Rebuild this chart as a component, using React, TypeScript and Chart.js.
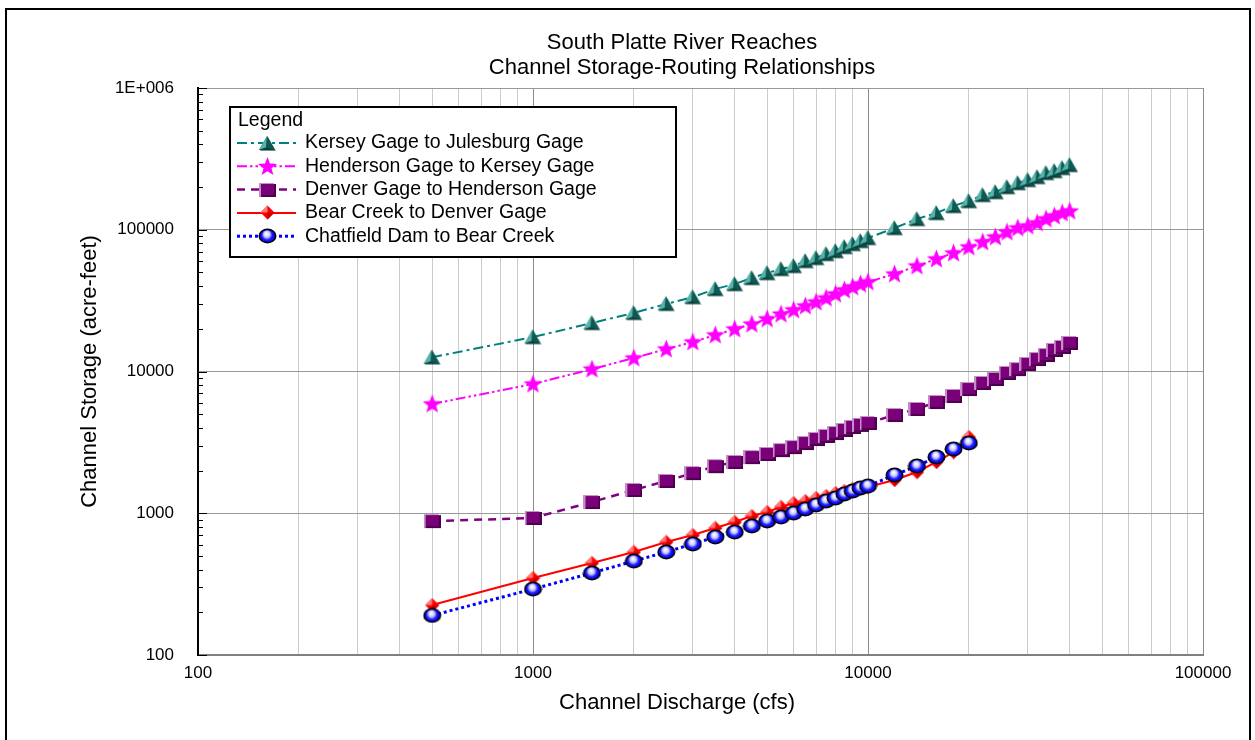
import React, { useEffect, useRef } from "react";
import { Chart, registerables } from "chart.js";

Chart.register(...registerables);

const FONT = '"Liberation Sans", Arial, Helvetica, sans-serif';

// ---------- text ----------
const titleLines = ["South Platte River Reaches", "Channel Storage-Routing Relationships"];
const xAxisTitle = "Channel Discharge (cfs)";
const yAxisTitle = "Channel Storage (acre-feet)";
const legendTitle = "Legend";
const seriesNames = [
  "Kersey Gage to Julesburg Gage",
  "Henderson Gage to Kersey Gage",
  "Denver Gage to Henderson Gage",
  "Bear Creek to Denver Gage",
  "Chatfield Dam to Bear Creek",
];

// ---------- data ----------
const dischargeLong = [
  500, 1000, 1500, 2000, 2500, 3000, 3500, 4000, 4500, 5000,
  5500, 6000, 6500, 7000, 7500, 8000, 8500, 9000, 9500, 10000,
  12000, 14000, 16000, 18000, 20000, 22000, 24000, 26000, 28000, 30000,
  32000, 34000, 36000, 38000, 40000,
];
const dischargeShort = [
  500, 1000, 1500, 2000, 2500, 3000, 3500, 4000, 4500, 5000,
  5500, 6000, 6500, 7000, 7500, 8000, 8500, 9000, 9500, 10000,
  12000, 14000, 16000, 18000, 20000,
];
const kerseyStorage = [
  12600, 17500, 22000, 25900, 30000, 33500, 38200, 41400, 45700, 49500,
  52900, 55500, 60200, 63200, 67500, 70800, 75600, 79400, 83300, 87500,
  102900, 119100, 131300, 147100, 159500, 175900, 184600, 200200, 213700, 224400,
  235600, 251500, 259800, 272700, 286300,
];
const hendersonStorage = [
  5900, 8160, 10400, 12450, 14400, 16150, 18100, 19950, 21600, 23500,
  25400, 27200, 29000, 30900, 33000, 35200, 37600, 39500, 41400, 42800,
  48700, 55500, 62200, 68500, 75600, 82000, 88900, 96400, 102900, 106300,
  111600, 119100, 125000, 131300, 135600,
];
const denverStorage = [
  880, 926, 1200, 1460, 1690, 1920, 2150, 2300, 2490, 2620,
  2790, 2930, 3130, 3340, 3510, 3680, 3870, 4060, 4200, 4330,
  4930, 5440, 6090, 6720, 7520, 8300, 8860, 9760, 10400, 11300,
  12250, 13070, 14180, 14890, 15890,
];
const bearStorage = [
  225, 349, 446, 533, 627, 702, 787, 868, 956, 1020,
  1107, 1181, 1220, 1281, 1323, 1389, 1435, 1483, 1507, 1531,
  1717, 1954, 2300, 2700, 3450,
];
const chatfieldStorage = [
  190, 292, 379, 460, 533, 607, 680, 737, 813, 882,
  941, 1004, 1072, 1144, 1220, 1281, 1367, 1435, 1507, 1556,
  1862, 2155, 2494, 2839, 3131,
];

// ---------- axis ticks ----------
const xDecades = [100, 1000, 10000, 100000];
const yDecades = [100, 1000, 10000, 100000, 1000000];
const yTickLabels = ["100", "1000", "10000", "100000", "1E+006"];
const minorMultipliers = [1, 2, 3, 4, 5, 6, 7, 8, 9];

// ---------- marker images ----------
function mk(w: number, h: number, draw: (g: CanvasRenderingContext2D) => void) {
  const c = document.createElement("canvas");
  c.width = w;
  c.height = h;
  const g = c.getContext("2d")!;
  draw(g);
  return c;
}

function triangleMarker() {
  return mk(19, 17, (g) => {
    g.fillStyle = "rgba(0,60,55,0.55)";
    g.beginPath(); g.moveTo(10, 2); g.lineTo(18, 16); g.lineTo(2, 16); g.closePath(); g.fill();
    g.fillStyle = "#1a7069";
    g.beginPath(); g.moveTo(9, 1); g.lineTo(17, 15); g.lineTo(1, 15); g.closePath(); g.fill();
    g.fillStyle = "#55b3aa";
    g.beginPath(); g.moveTo(9, 1); g.lineTo(1, 15); g.lineTo(8, 12.5); g.closePath(); g.fill();
    g.fillStyle = "#0f5952";
    g.beginPath(); g.moveTo(9, 1); g.lineTo(8, 12.5); g.lineTo(17, 15); g.closePath(); g.fill();
    g.fillStyle = "#0b3f3a";
    g.beginPath(); g.moveTo(1, 15); g.lineTo(8, 12.5); g.lineTo(17, 15); g.closePath(); g.fill();
  });
}

function starMarker() {
  return mk(21, 21, (g) => {
    g.fillStyle = "#ff00ff";
    g.beginPath();
    for (let i = 0; i < 10; i++) {
      const r = i % 2 === 0 ? 10 : 4.2;
      const a = -Math.PI / 2 + (i * Math.PI) / 5;
      const x = 10.5 + r * Math.cos(a);
      const y = 11 + r * Math.sin(a);
      if (i === 0) g.moveTo(x, y); else g.lineTo(x, y);
    }
    g.closePath();
    g.fill();
  });
}

function squareMarker() {
  return mk(17, 16, (g) => {
    g.fillStyle = "#c68ec6";
    g.fillRect(0, 1, 15, 14);
    g.fillStyle = "#7a007a";
    g.fillRect(2, 2, 14, 12);
    g.fillStyle = "#4d004d";
    g.fillRect(2, 13, 14, 2);
    g.fillRect(15, 2, 2, 13);
  });
}

function diamondMarker() {
  return mk(15, 15, (g) => {
    g.fillStyle = "#ff0000";
    g.beginPath(); g.moveTo(7.5, 0.5); g.lineTo(14.5, 7.5); g.lineTo(7.5, 14.5); g.lineTo(0.5, 7.5); g.closePath(); g.fill();
    g.fillStyle = "#ff7a7a";
    g.beginPath(); g.moveTo(7.5, 0.5); g.lineTo(0.5, 7.5); g.lineTo(7.5, 7.5); g.closePath(); g.fill();
    g.fillStyle = "#c80000";
    g.beginPath(); g.moveTo(7.5, 14.5); g.lineTo(14.5, 7.5); g.lineTo(7.5, 7.5); g.closePath(); g.fill();
  });
}

function sphereMarker() {
  return mk(19, 16, (g) => {
    const grad = g.createRadialGradient(8.5, 5.5, 0.5, 9.5, 8, 9);
    grad.addColorStop(0, "#ffffff");
    grad.addColorStop(0.3, "#c8c8ff");
    grad.addColorStop(0.55, "#1a1aff");
    grad.addColorStop(0.85, "#0000d0");
    grad.addColorStop(1, "#000080");
    g.fillStyle = grad;
    g.beginPath();
    g.ellipse(9.5, 8, 8.3, 6.8, 0, 0, Math.PI * 2);
    g.fill();
    g.lineWidth = 1.4;
    g.strokeStyle = "#000000";
    g.stroke();
  });
}

const seriesColors = ["#008080", "#ff00ff", "#800080", "#ff0000", "#0000ff"];
const seriesDashes = [[10, 4, 3, 4], [10, 3, 2.5, 3, 2.5, 3], [8, 6], [], [3, 3]];
const seriesWidths = [2, 2, 2.5, 2, 3];

function isMajor(v: number) {
  const l = Math.log10(v);
  return Math.abs(l - Math.round(l)) < 1e-9;
}

export default function App() {
  const ref = useRef<HTMLCanvasElement | null>(null);

  useEffect(() => {
    const canvas = ref.current!;
    const markers = [triangleMarker(), starMarker(), squareMarker(), diamondMarker(), sphereMarker()];
    const xs = [dischargeLong, dischargeLong, dischargeLong, dischargeShort, dischargeShort];
    const ys = [kerseyStorage, hendersonStorage, denverStorage, bearStorage, chatfieldStorage];

    const datasets = seriesNames.map((name, i) => ({
      label: name,
      data: xs[i].map((x, j) => ({ x, y: ys[i][j] })),
      borderColor: seriesColors[i],
      backgroundColor: seriesColors[i],
      borderWidth: seriesWidths[i],
      borderDash: seriesDashes[i],
      pointStyle: markers[i],
      pointRadius: 7,
      pointHoverRadius: 7,
      tension: 0,
      fill: false,
      order: 5 - i,
    }));

    const xTickValues: number[] = [];
    xDecades.slice(0, 3).forEach((d) => minorMultipliers.forEach((m) => xTickValues.push(d * m)));
    xTickValues.push(xDecades[3]);

    const decor = {
      id: "decor",
      beforeDatasetsDraw(chart: any) {
        const { ctx, chartArea, scales } = chart;
        const y = scales.y;
        ctx.save();
        ctx.strokeStyle = "#000000";
        ctx.lineWidth = 1;
        yDecades.forEach((d, k) => {
          minorMultipliers.forEach((m) => {
            if (k === yDecades.length - 1 && m > 1) return;
            const py = Math.round(y.getPixelForValue(d * m)) + 0.5;
            const len = m === 1 ? 9 : 5;
            ctx.beginPath();
            ctx.moveTo(chartArea.left, py);
            ctx.lineTo(chartArea.left + len, py);
            ctx.stroke();
          });
        });
        ctx.restore();
      },
      afterDraw(chart: any) {
        const { ctx, chartArea } = chart;
        ctx.save();
        // outer frame
        ctx.strokeStyle = "#000000";
        ctx.lineWidth = 2;
        ctx.beginPath();
        ctx.moveTo(6, 760);
        ctx.lineTo(6, 9);
        ctx.lineTo(1250, 9);
        ctx.lineTo(1250, 760);
        ctx.stroke();

        // titles
        ctx.fillStyle = "#000000";
        ctx.font = `22px ${FONT}`;
        ctx.textAlign = "center";
        ctx.textBaseline = "middle";
        ctx.fillText(titleLines[0], 682, 43);
        ctx.fillText(titleLines[1], 682, 68);
        ctx.fillText(xAxisTitle, 677, 703);
        ctx.save();
        ctx.translate(90, (chartArea.top + chartArea.bottom) / 2);
        ctx.rotate(-Math.PI / 2);
        ctx.fillText(yAxisTitle, 0, 0);
        ctx.restore();

        // legend
        const lx = 230, ly = 107, lw = 446, lh = 150;
        ctx.fillStyle = "#ffffff";
        ctx.fillRect(lx, ly, lw, lh);
        ctx.strokeStyle = "#000000";
        ctx.lineWidth = 2;
        ctx.strokeRect(lx, ly, lw, lh);
        ctx.fillStyle = "#000000";
        ctx.font = `19.5px ${FONT}`;
        ctx.textAlign = "left";
        ctx.textBaseline = "middle";
        ctx.fillText(legendTitle, 238, 121);
        seriesNames.forEach((name, i) => {
          const yy = 143 + i * 23.3;
          ctx.save();
          ctx.strokeStyle = seriesColors[i];
          ctx.lineWidth = seriesWidths[i];
          ctx.setLineDash(seriesDashes[i]);
          ctx.beginPath();
          ctx.moveTo(237, yy);
          ctx.lineTo(296, yy);
          ctx.stroke();
          ctx.restore();
          const mkr = markers[i];
          ctx.drawImage(mkr, Math.round(267 - mkr.width / 2), Math.round(yy - mkr.height / 2));
          ctx.fillStyle = "#000000";
          ctx.fillText(name, 305, yy);
        });
        ctx.restore();
      },
    };

    const chart = new Chart(canvas, {
      type: "line",
      data: { datasets: datasets as any },
      plugins: [decor],
      options: {
        responsive: false,
        animation: false,
        devicePixelRatio: 1,
        layout: { padding: { left: 98, top: 88, right: 52, bottom: 45 } },
        plugins: {
          legend: { display: false },
          title: { display: false },
          tooltip: { enabled: false },
        },
        scales: {
          x: {
            type: "logarithmic",
            min: 100,
            max: 100000,
            afterBuildTicks: (scale: any) => {
              scale.ticks = xTickValues.map((v) => ({ value: v, major: isMajor(v) }));
            },
            afterFit: (scale: any) => {
              scale.height = 40;
            },
            ticks: {
              autoSkip: false,
              maxRotation: 0,
              minRotation: 0,
              padding: 8,
              color: "#000000",
              font: { family: FONT, size: 17 },
              callback: (v: any) => (isMajor(Number(v)) ? String(Number(v)) : ""),
            },
            grid: {
              drawTicks: false,
              color: (c: any) => (c.tick && isMajor(c.tick.value) ? "#8c8c8c" : "#cccccc"),
              lineWidth: 1,
            },
            border: { display: true, color: "#808080", width: 2 },
          },
          y: {
            type: "logarithmic",
            min: 100,
            max: 1000000,
            afterBuildTicks: (scale: any) => {
              scale.ticks = yDecades.map((v) => ({ value: v, major: true }));
            },
            afterFit: (scale: any) => {
              scale.width = 100;
            },
            ticks: {
              autoSkip: false,
              padding: 24,
              color: "#000000",
              font: { family: FONT, size: 17 },
              callback: (v: any) => {
                const idx = yDecades.indexOf(Number(v));
                return idx >= 0 ? yTickLabels[idx] : "";
              },
            },
            grid: {
              drawTicks: false,
              color: "#999999",
              lineWidth: 1,
            },
            border: { display: true, color: "#000000", width: 2 },
          },
        },
      },
    });

    return () => chart.destroy();
  }, []);

  return (
    <div style={{ position: "absolute", left: 0, top: 0, width: 1255, height: 740, overflow: "hidden", background: "#ffffff" }}>
      <canvas ref={ref} width={1255} height={740} style={{ display: "block", width: 1255, height: 740 }} />
    </div>
  );
}
